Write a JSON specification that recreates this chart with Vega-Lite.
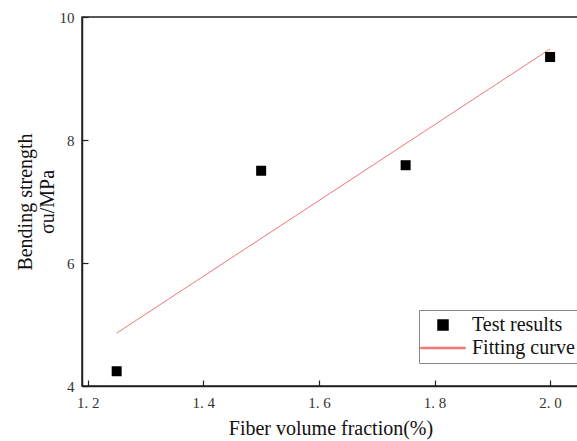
{
  "$schema": "https://vega.github.io/schema/vega-lite/v6.json",
  "autosize": {"type": "none"},
  "padding": {"left": 82, "top": 17, "right": 0, "bottom": 55},
  "width": 497,
  "height": 369,
  "background": "white",
  "config": {
    "font": "Liberation Serif",
    "view": {"stroke": "#222", "strokeWidth": 1.5},
    "axis": {
      "labelFont": "Liberation Serif",
      "titleFont": "Liberation Serif",
      "labelFontSize": 15,
      "titleFontSize": 20,
      "titleFontWeight": "normal",
      "labelColor": "#333",
      "titleColor": "#111",
      "domainColor": "#222",
      "domainWidth": 1.5,
      "tickColor": "#222",
      "tickWidth": 1.2,
      "grid": false
    },
    "legend": {
      "labelFont": "Liberation Serif",
      "titleFont": "Liberation Serif"
    }
  },
  "datasets": {
    "results": [
      {"fraction": 1.25, "strength": 4.24, "series": "Test results"},
      {"fraction": 1.5, "strength": 7.5, "series": "Test results"},
      {"fraction": 1.75, "strength": 7.59, "series": "Test results"},
      {"fraction": 2.0, "strength": 9.35, "series": "Test results"}
    ],
    "fit": [
      {"fraction": 1.25, "strength": 4.86, "series": "Fitting curve"},
      {"fraction": 2.0, "strength": 9.48, "series": "Fitting curve"}
    ]
  },
  "layer": [
    {
      "data": {"name": "fit"},
      "mark": {"type": "line", "strokeWidth": 1, "clip": true},
      "encoding": {
        "x": {"field": "fraction", "type": "quantitative"},
        "y": {"field": "strength", "type": "quantitative"},
        "color": {"field": "series", "type": "nominal"}
      }
    },
    {
      "data": {"name": "results"},
      "mark": {"type": "point", "size": 100, "filled": true, "opacity": 1},
      "encoding": {
        "x": {
          "field": "fraction",
          "type": "quantitative",
          "scale": {"domain": [1.19, 2.05], "nice": false, "zero": false},
          "axis": {
            "title": "Fiber volume fraction(%)",
            "values": [1.2, 1.4, 1.6, 1.8, 2.0],
            "format": ".1f",
            "labelExpr": "replace(datum.label, '.', '. ')",
            "tickSize": -6,
            "labelPadding": 15,
            "titlePadding": 8
          }
        },
        "y": {
          "field": "strength",
          "type": "quantitative",
          "scale": {"domain": [4, 10], "nice": false, "zero": false},
          "axis": {
            "title": ["Bending strength", "σu/MPa"],
            "values": [4, 6, 8, 10],
            "format": "d",
            "tickSize": -6,
            "labelPadding": 14,
            "titlePadding": 2,
            "titleLineHeight": 22
          }
        },
        "color": {
          "field": "series",
          "type": "nominal",
          "scale": {"domain": ["Test results", "Fitting curve"], "range": ["black", "#f27777"]},
          "legend": {
            "title": null,
            "orient": "none",
            "legendX": 337,
            "legendY": 293,
            "strokeColor": "#888",
            "padding": 5,
            "labelFontSize": 20,
            "labelColor": "#111",
            "labelOffset": 19,
            "symbolOffset": 9,
            "rowPadding": 3,
            "symbolSize": 100,
            "symbolOpacity": 1
          }
        },
        "shape": {
          "field": "series",
          "type": "nominal",
          "scale": {
            "domain": ["Test results", "Fitting curve"],
            "range": ["square", "M-4.4,-0.08H4.4V0.08H-4.4Z"]
          }
        }
      }
    }
  ]
}
